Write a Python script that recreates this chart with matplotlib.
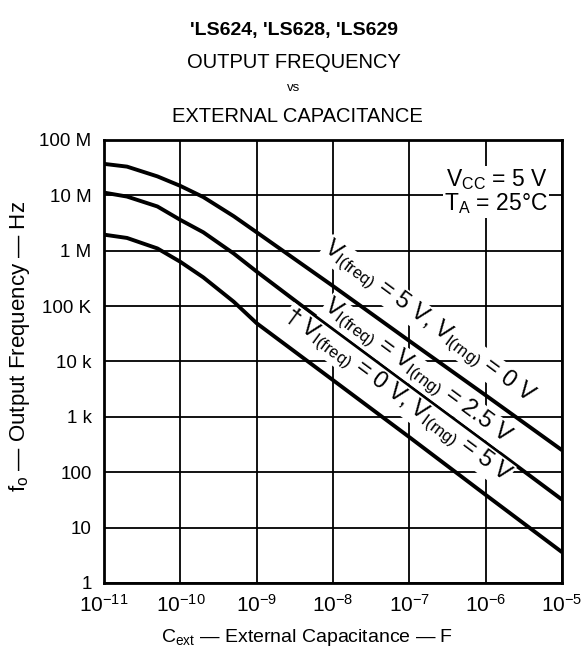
import matplotlib
matplotlib.use("Agg")
import matplotlib.pyplot as plt

plt.rcParams['font.family'] = ['Liberation Sans', 'DejaVu Sans']
plt.rcParams['mathtext.fontset'] = 'custom'
plt.rcParams['mathtext.rm'] = 'Liberation Sans'
plt.rcParams['mathtext.it'] = 'Liberation Sans'

# ---------------- DATA ----------------
cext = [1e-11, 2e-11, 5e-11, 1e-10, 2e-10, 5e-10, 1e-9, 1e-8, 1e-7, 1e-6, 1e-5]

# VI(freq) = 5 V, VI(rng) = 0 V
f_top = [3.7e7, 3.3e7, 2.2e7, 1.48e7, 9.3e6, 4.2e6, 2.15e6, 2.3e5, 2.35e4, 2.45e3, 2.5e2]
# VI(freq) = VI(rng) = 2.5 V
f_mid = [1.12e7, 9.5e6, 6.3e6, 3.6e6, 2.15e6, 8.9e5, 4.2e5, 3.8e4, 3.55e3, 3.4e2, 3.2e1]
# VI(freq) = 0 V, VI(rng) = 5 V
f_bot = [1.95e6, 1.7e6, 1.1e6, 6.3e5, 3.3e5, 1.2e5, 4.9e4, 4.6e3, 4.3e2, 3.9e1, 3.6e0]

y_ticks = [1, 10, 100, 1e3, 1e4, 1e5, 1e6, 1e7, 1e8]
y_labels = ["1", "10", "100", "1 k", "10 k", "100 K", "1 M", "10 M", "100 M"]
x_ticks = [1e-11, 1e-10, 1e-9, 1e-8, 1e-7, 1e-6, 1e-5]
x_labels = [r"10$^{-11}$", r"10$^{-10}$", r"10$^{-9}$", r"10$^{-8}$",
            r"10$^{-7}$", r"10$^{-6}$", r"10$^{-5}$"]

# ---------------- FIGURE ----------------
fig = plt.figure(figsize=(5.88, 6.54), dpi=100)
ax = fig.add_axes([0.1769, 0.1086, 0.7789, 0.6774])

ax.set_xscale("log")
ax.set_yscale("log")
ax.set_xlim(1e-11, 1e-5)
ax.set_ylim(1, 1e8)

ax.set_xticks(x_ticks, x_labels)
ax.set_yticks(y_ticks, y_labels)
ax.minorticks_off()
ax.tick_params(length=0, colors="black")
ax.tick_params(axis="y", pad=9, labelsize=13.5)
ax.tick_params(axis="x", pad=8, labelsize=15)

ax.grid(True, which="major", color="black", linewidth=1.3)
ax.set_axisbelow(True)
for s in ax.spines.values():
    s.set_linewidth(2)

for f in (f_top, f_mid, f_bot):
    ax.plot(cext, f, color="black", linewidth=2.8, solid_capstyle="butt")

# curve labels
lbl_kw = dict(transform=ax.transAxes, rotation=-36.5, rotation_mode="anchor",
              ha="center", va="center", fontsize=17,
              bbox=dict(facecolor="white", edgecolor="none", pad=0.3))
ax.text((428 - 104) / 458, (583 - 322) / 443,
        r"V$_{I(freq)}$ = 5 V, V$_{I(rng)}$ = 0 V", **lbl_kw)
ax.text((417 - 104) / 458, (583 - 372) / 443,
        r"V$_{I(freq)}$ = V$_{I(rng)}$ = 2.5 V", **lbl_kw)
ax.text((397 - 104) / 458, (583 - 396) / 443,
        r"† V$_{I(freq)}$ = 0 V, V$_{I(rng)}$ = 5 V", **lbl_kw)

box_kw = dict(transform=ax.transAxes, ha="right", va="center", fontsize=16.5,
              bbox=dict(facecolor="white", edgecolor="none", pad=1))
ax.text((548 - 104) / 458, (583 - 180) / 443, r"V$_{CC}$ = 5 V", **box_kw)
ax.text((548 - 104) / 458, (583 - 204) / 443, r"T$_A$ = 25°C", **box_kw)

ax.set_xlabel(r"C$_{ext}$ — External Capacitance — F", fontsize=14)
ax.xaxis.set_label_coords((307 - 104) / 458, -0.1)
ax.set_ylabel(r"f$_o$ — Output Frequency — Hz", fontsize=16)
ax.yaxis.set_label_coords(-0.158, (583 - 347) / 443)

# titles
fig.text(294 / 588, 1 - 30 / 654, "'LS624, 'LS628, 'LS629",
         ha="center", va="center", fontsize=14, fontweight="bold")
fig.text(294 / 588, 1 - 62 / 654, "OUTPUT FREQUENCY",
         ha="center", va="center", fontsize=14.5)
fig.text(294 / 588, 1 - 88 / 654, "vs",
         ha="center", va="center", fontsize=9.5)
fig.text(297 / 588, 1 - 116 / 654, "EXTERNAL CAPACITANCE",
         ha="center", va="center", fontsize=14.5)

fig.savefig("out.png", dpi=100)
